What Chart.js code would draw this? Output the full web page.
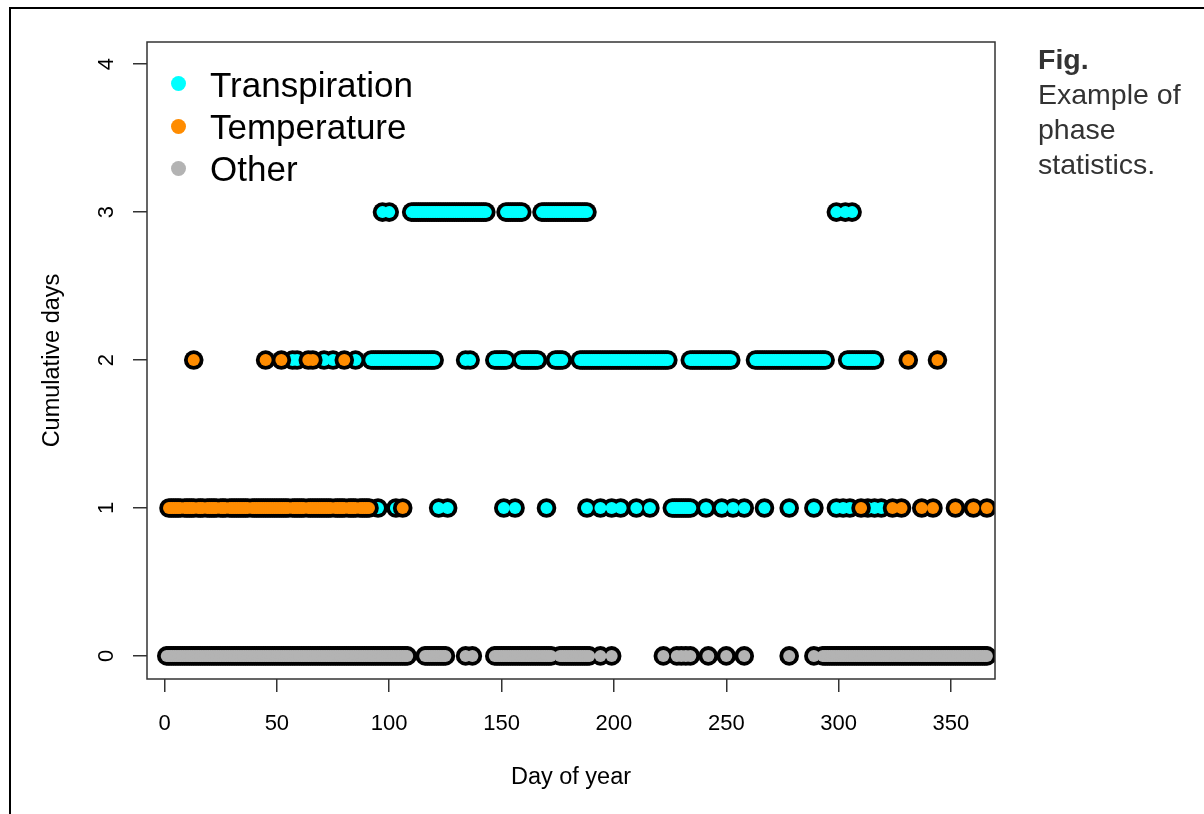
<!DOCTYPE html>
<html>
<head>
<meta charset="utf-8">
<script src="https://cdn.jsdelivr.net/npm/chart.js@4/dist/chart.umd.min.js"></script>
<style>
  html, body { margin: 0; padding: 0; background: #fff; overflow: hidden; }
  body { width: 1204px; height: 814px; position: relative; font-family: "Liberation Sans", Arial, sans-serif; }
  #frame { position: absolute; left: 9px; top: 7px; width: 1400px; height: 1000px; border: 2.5px solid #000; box-sizing: border-box; }
  #chart { position: absolute; left: 0; top: 0; }
  .legend-dot { position: absolute; width: 15px; height: 15px; border-radius: 50%; }
  .legend-text { position: absolute; left: 210px; font-size: 35px; line-height: 42px; color: #000; white-space: nowrap; }
  #caption { position: absolute; left: 1038px; top: 42px; font-size: 28.5px; line-height: 35px; color: #333; }
</style>
</head>
<body>
<div id="frame"></div>
<canvas id="chart" width="1204" height="814"></canvas>
<div id="legend"></div>
<div id="caption"><b>Fig.</b><br>Example of<br>phase<br>statistics.</div>
<script>
const xTicks = [0, 50, 100, 150, 200, 250, 300, 350];
const yTicks = [0, 1, 2, 3, 4];
const seriesNames = ["Transpiration", "Temperature", "Other"];
const seriesColors = ["#00ffff", "#ff8c00", "#b3b3b3"];

// day of year for each point, grouped by cumulative-days level
const transpirationLevel3 = [
  97, 100,
  110, 111, 112, 113, 114, 115, 116, 117, 118, 119, 120, 121, 122, 123, 124, 125, 126,
  127, 128, 129, 130, 131, 132, 133, 134, 135, 136, 137, 138, 139, 140, 141, 142, 143,
  152, 153, 154, 155, 156, 157, 158, 159,
  168, 169, 170, 171, 172, 173, 174, 175, 176, 177, 178, 179, 180, 181, 182, 183, 184,
  185, 186, 187, 188,
  299, 303, 306
];
const transpirationLevel2 = [
  57, 59, 71, 75, 85,
  92, 93, 94, 95, 96, 97, 98, 99, 100, 101, 102, 103, 104, 105, 106, 107, 108, 109, 110,
  111, 112, 113, 114, 115, 116, 117, 118, 119, 120,
  134, 136,
  147, 148, 149, 150, 151, 152,
  159, 160, 161, 162, 163, 164, 165, 166,
  174, 175, 176, 177,
  185, 186, 187, 188, 189, 190, 191, 192, 193, 194, 195, 196, 197, 198, 199, 200, 201,
  202, 203, 204, 205, 206, 207, 208, 209, 210, 211, 212, 213, 214, 215, 216, 217, 218,
  219, 220, 221, 222, 223, 224,
  234, 235, 236, 237, 238, 239, 240, 241, 242, 243, 244, 245, 246, 247, 248, 249, 250,
  251, 252,
  263, 264, 265, 266, 267, 268, 269, 270, 271, 272, 273, 274, 275, 276, 277, 278, 279,
  280, 281, 282, 283, 284, 285, 286, 287, 288, 289, 290, 291, 292, 293, 294,
  304, 305, 306, 307, 308, 309, 310, 311, 312, 313, 314, 315, 316
];
const transpirationLevel1 = [
  95, 103, 122, 126, 151, 156, 170, 188, 194, 199, 203, 210, 216,
  226, 227, 228, 229, 230, 231, 232, 233, 234,
  241, 248, 253, 258, 267, 278, 289, 299, 302, 305, 313, 316, 319
];
const temperatureLevel2 = [13, 45, 52, 64, 66, 80, 331, 344];
const temperatureLevel1 = [
  2, 3, 4, 5, 6, 7, 9, 10, 11, 12, 13, 15, 16, 17, 19, 20, 21, 22, 23, 25, 26, 27,
  29, 30, 31, 32, 33, 34, 35, 36, 37, 39, 40, 41, 42, 43, 44, 45, 46, 47, 48, 49, 50,
  51, 52, 53, 54, 55, 57, 58, 59, 60, 61, 62, 64, 65, 66, 67, 68, 69, 70, 71, 72, 73,
  74, 76, 77, 78, 79, 80, 82, 83, 84, 85, 87, 88, 89, 90, 91,
  106, 310, 324, 328, 337, 342, 352, 360, 366
];
const otherLevel0 = [
  1, 2, 3, 4, 5, 6, 7, 8, 9, 10, 11, 12, 13, 14, 15, 16, 17, 18, 19, 20,
  21, 22, 23, 24, 25, 26, 27, 28, 29, 30, 31, 32, 33, 34, 35, 36, 37, 38, 39, 40,
  41, 42, 43, 44, 45, 46, 47, 48, 49, 50, 51, 52, 53, 54, 55, 56, 57, 58, 59, 60,
  61, 62, 63, 64, 65, 66, 67, 68, 69, 70, 71, 72, 73, 74, 75, 76, 77, 78, 79, 80,
  81, 82, 83, 84, 85, 86, 87, 88, 89, 90, 91, 92, 93, 94, 95, 96, 97, 98, 99, 100,
  101, 102, 103, 104, 105, 106, 107, 108,
  116, 117, 118, 119, 120, 121, 122, 123, 124, 125,
  134, 137,
  147, 148, 149, 150, 151, 152, 153, 154, 155, 156, 157, 158, 159, 160, 161, 162, 163,
  164, 165, 166, 167, 168, 169, 170, 171, 172,
  176, 177, 178, 179, 180, 181, 182, 183, 184, 185, 186, 187, 188, 189,
  194, 199,
  222, 228, 230, 232, 234, 242, 250, 258,
  278, 289,
  293, 294, 295, 296, 297, 298, 299, 300, 301, 302, 303, 304, 305, 306, 307, 308, 309,
  310, 311, 312, 313, 314, 315, 316, 317, 318, 319, 320, 321, 322, 323, 324, 325, 326,
  327, 328, 329, 330, 331, 332, 333, 334, 335, 336, 337, 338, 339, 340, 341, 342, 343,
  344, 345, 346, 347, 348, 349, 350, 351, 352, 353, 354, 355, 356, 357, 358, 359, 360,
  361, 362, 363, 364, 365, 366
];

function toPoints(days, level) {
  return days.map(d => ({ x: d, y: level }));
}

const seriesPoints = [
  [...toPoints(transpirationLevel1, 1), ...toPoints(transpirationLevel2, 2), ...toPoints(transpirationLevel3, 3)],
  [...toPoints(temperatureLevel1, 1), ...toPoints(temperatureLevel2, 2)],
  toPoints(otherLevel0, 0)
];

// each series: black underlay first, coloured dots on top (Temperature drawn last)
const drawRank = [2, 1, 3];
const datasets = [];
seriesNames.forEach((name, i) => {
  datasets.push({
    label: name + " outline",
    data: seriesPoints[i],
    pointRadius: 9.8,
    pointHoverRadius: 9.8,
    pointBorderWidth: 0,
    pointBackgroundColor: "#000",
    showLine: false,
    order: drawRank[i] * 2
  });
  datasets.push({
    label: name,
    data: seriesPoints[i],
    pointRadius: 6,
    pointHoverRadius: 6,
    pointBorderWidth: 0,
    pointBackgroundColor: seriesColors[i],
    showLine: false,
    order: drawRank[i] * 2 - 1
  });
});

const boxPlugin = {
  id: "plotBox",
  afterDatasetsDraw(chart) {
    const a = chart.chartArea;
    const ctx = chart.ctx;
    ctx.save();
    ctx.strokeStyle = "#333";
    ctx.lineWidth = 1.5;
    ctx.strokeRect(a.left, a.top, a.right - a.left, a.bottom - a.top);
    ctx.restore();
  }
};

const tickFont = { family: "'Liberation Sans', Arial, sans-serif", size: 22 };
const titleFont = { family: "'Liberation Sans', Arial, sans-serif", size: 23.5 };

new Chart(document.getElementById("chart"), {
  type: "scatter",
  data: { datasets: datasets },
  plugins: [boxPlugin],
  options: {
    responsive: false,
    animation: false,
    events: [],
    layout: { padding: { left: 0, top: 42, right: 209, bottom: 0 } },
    plugins: { legend: { display: false }, tooltip: { enabled: false } },
    scales: {
      x: {
        type: "linear",
        min: -7.8,
        max: 369.6,
        afterBuildTicks: s => { s.ticks = xTicks.map(v => ({ value: v })); },
        afterFit: s => { s.height = 814 - 679; },
        ticks: { color: "#000", font: tickFont, padding: 19, maxRotation: 0 },
        grid: { drawOnChartArea: false, tickLength: 13, color: "#333", lineWidth: 1.5 },
        border: { display: false },
        title: { display: true, text: "Day of year", color: "#000", font: titleFont, padding: { top: 0, bottom: 22 } }
      },
      y: {
        type: "linear",
        min: -0.156,
        max: 4.15,
        afterBuildTicks: s => { s.ticks = yTicks.map(v => ({ value: v })); },
        afterFit: s => { s.width = 147; },
        ticks: { color: "#000", font: tickFont, padding: 20, minRotation: 90, maxRotation: 90, crossAlign: "center" },
        grid: { drawOnChartArea: false, tickLength: 14, color: "#333", lineWidth: 1.5 },
        border: { display: false },
        title: { display: true, text: "Cumulative days", color: "#000", font: titleFont, padding: { top: 38, bottom: 0 } }
      }
    }
  }
});

// legend in the top-left corner of the plot, as in the original
const legend = document.getElementById("legend");
const legendDotY = [83.5, 126, 168];
const legendTop = [64, 106, 148];
seriesNames.forEach((name, i) => {
  const dot = document.createElement("div");
  dot.className = "legend-dot";
  dot.style.background = seriesColors[i];
  dot.style.left = (178.5 - 7.5) + "px";
  dot.style.top = (legendDotY[i] - 7.5) + "px";
  legend.appendChild(dot);
  const txt = document.createElement("div");
  txt.className = "legend-text";
  txt.style.top = legendTop[i] + "px";
  txt.textContent = name;
  legend.appendChild(txt);
});
</script>
</body>
</html>
